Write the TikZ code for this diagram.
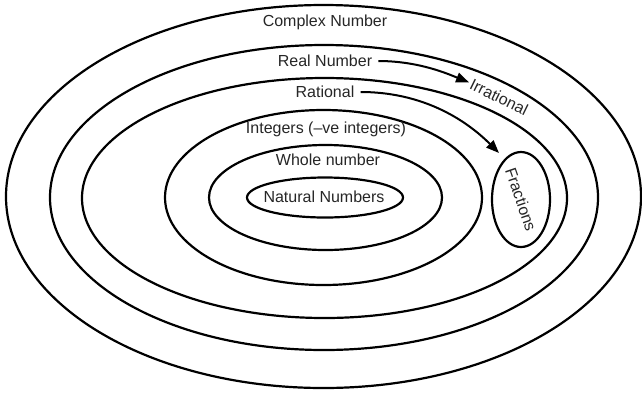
\documentclass[tikz,border=0pt]{standalone}
\usepackage{fontspec}
\setmainfont{Liberation Sans}
\usetikzlibrary{arrows.meta,shapes.geometric}

\begin{document}
\begin{tikzpicture}[x=1pt, y=-1pt,
  ring/.style={line width=2.2pt},
  lbl/.style={font=\fontsize{16}{18}\selectfont, text=black!85, inner sep=2pt},
  arr/.style={line width=2pt, shorten <=4pt, -{Triangle[length=13pt,width=10pt]}}]
\useasboundingbox (0,0) rectangle (642,392);

\draw[ring] (323.5,196.5) ellipse [x radius=317.5, y radius=191.5];
\draw[ring] (324,197.5) ellipse [x radius=274, y radius=152.5];
\draw[ring] (324.5,198) ellipse [x radius=242.5, y radius=120];
\draw[ring] (323.5,197.5) ellipse [x radius=158.5, y radius=87.5];
\draw[ring] (325.5,197.5) ellipse [x radius=116.5, y radius=52.5];
\draw[ring] (325,197.5) ellipse [x radius=78, y radius=20];

\node[lbl] (complex) at (325,22) {Complex Number};
\node[lbl] (real) at (325,61) {Real Number};
\node[lbl] (rational) at (325,92) {Rational};
\node[lbl] (integers) at (326,129) {Integers (–ve integers)};
\node[lbl] (whole) at (328,160) {Whole number};
\node[lbl] (natural) at (324,197) {Natural Numbers};
\node[lbl, rotate=-26] (irr) at (499,97) {Irrational};

\node[ring, draw, ellipse, minimum width=58, minimum height=95, inner sep=0pt] (frac) at (521,199.5) {};
\node[lbl, rotate=-71] (fractxt) at (frac) {Fractions};
\coordinate (fractip) at (499,153);

\draw[arr] (real.east) .. controls +(45,0) and +(-20,-8) .. (irr.west);
\draw[arr] (rational.east) .. controls +(75,0) and +(-25,-25) .. (fractip);
\end{tikzpicture}
\end{document}
